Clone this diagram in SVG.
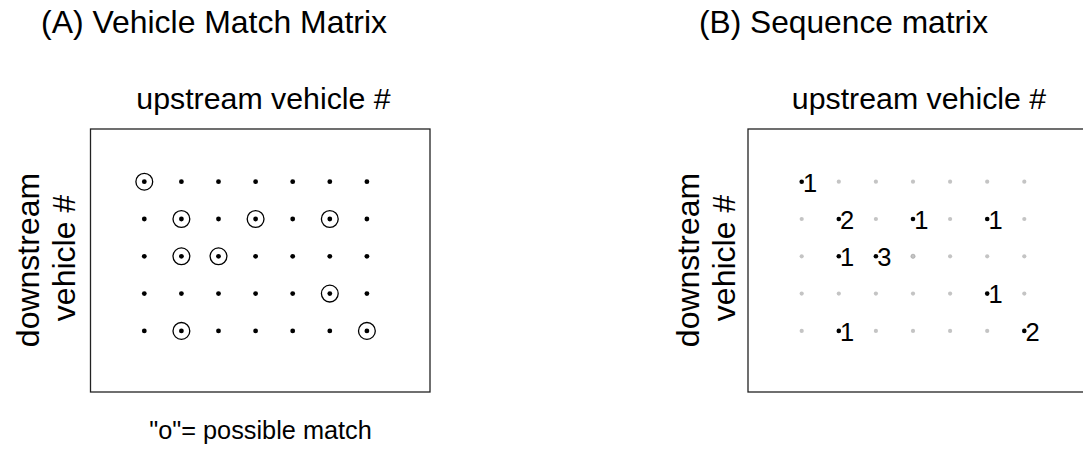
<svg xmlns="http://www.w3.org/2000/svg" width="1083" height="451" viewBox="0 0 1083 451">
<style>
text{font-family:"Liberation Sans",Arial,sans-serif;fill:#000}
.title{font-size:31.5px}
.axis{font-size:30.3px;text-anchor:middle}
.vlab{font-size:32px;text-anchor:middle}
.box{fill:none;stroke:#222;stroke-width:1.3}
.d{fill:#000}
.g{fill:#c4c4c4}
.ring{fill:none;stroke:#000;stroke-width:1.3}
.num{font-size:25.5px}
.cap{font-size:25.3px;text-anchor:middle}
</style>
<rect width="1083" height="451" fill="#fff"/>
<g id="panelA">
<text class="title" x="41" y="33" textLength="346" lengthAdjust="spacingAndGlyphs">(A) Vehicle Match Matrix</text>
<text class="axis" x="263.5" y="109">upstream vehicle #</text>
<text class="vlab" transform="translate(38.5,260) rotate(-90)">downstream</text>
<text class="vlab" transform="translate(75,258) rotate(-90)">vehicle #</text>
<rect class="box" x="90.5" y="129" width="339.5" height="263"/>
<g id="dotsA">
<circle class="d" cx="144.3" cy="181.7" r="2.4"/><circle class="d" cx="181.4" cy="181.7" r="2.4"/><circle class="d" cx="218.5" cy="181.7" r="2.4"/><circle class="d" cx="255.6" cy="181.7" r="2.4"/><circle class="d" cx="292.7" cy="181.7" r="2.4"/><circle class="d" cx="329.8" cy="181.7" r="2.4"/><circle class="d" cx="366.9" cy="181.7" r="2.4"/>
<circle class="d" cx="144.3" cy="219" r="2.4"/><circle class="d" cx="181.4" cy="219" r="2.4"/><circle class="d" cx="218.5" cy="219" r="2.4"/><circle class="d" cx="255.6" cy="219" r="2.4"/><circle class="d" cx="292.7" cy="219" r="2.4"/><circle class="d" cx="329.8" cy="219" r="2.4"/><circle class="d" cx="366.9" cy="219" r="2.4"/>
<circle class="d" cx="144.3" cy="256.3" r="2.4"/><circle class="d" cx="181.4" cy="256.3" r="2.4"/><circle class="d" cx="218.5" cy="256.3" r="2.4"/><circle class="d" cx="255.6" cy="256.3" r="2.4"/><circle class="d" cx="292.7" cy="256.3" r="2.4"/><circle class="d" cx="329.8" cy="256.3" r="2.4"/><circle class="d" cx="366.9" cy="256.3" r="2.4"/>
<circle class="d" cx="144.3" cy="293.6" r="2.4"/><circle class="d" cx="181.4" cy="293.6" r="2.4"/><circle class="d" cx="218.5" cy="293.6" r="2.4"/><circle class="d" cx="255.6" cy="293.6" r="2.4"/><circle class="d" cx="292.7" cy="293.6" r="2.4"/><circle class="d" cx="329.8" cy="293.6" r="2.4"/><circle class="d" cx="366.9" cy="293.6" r="2.4"/>
<circle class="d" cx="144.3" cy="330.9" r="2.4"/><circle class="d" cx="181.4" cy="330.9" r="2.4"/><circle class="d" cx="218.5" cy="330.9" r="2.4"/><circle class="d" cx="255.6" cy="330.9" r="2.4"/><circle class="d" cx="292.7" cy="330.9" r="2.4"/><circle class="d" cx="329.8" cy="330.9" r="2.4"/><circle class="d" cx="366.9" cy="330.9" r="2.4"/>
</g>
<g id="ringsA">
<circle class="ring" cx="144.3" cy="181.7" r="8.4"/>
<circle class="ring" cx="181.4" cy="219" r="8.4"/>
<circle class="ring" cx="255.6" cy="219" r="8.4"/>
<circle class="ring" cx="329.8" cy="219" r="8.4"/>
<circle class="ring" cx="181.4" cy="256.3" r="8.4"/>
<circle class="ring" cx="218.5" cy="256.3" r="8.4"/>
<circle class="ring" cx="329.8" cy="293.6" r="8.4"/>
<circle class="ring" cx="181.4" cy="330.9" r="8.4"/>
<circle class="ring" cx="366.9" cy="330.9" r="8.4"/>
</g>
<text class="cap" x="260.5" y="438.5">"o"= possible match</text>
</g>
<g id="panelB">
<text class="title" x="699" y="33" textLength="289" lengthAdjust="spacingAndGlyphs">(B) Sequence matrix</text>
<text class="axis" x="919" y="109">upstream vehicle #</text>
<text class="vlab" transform="translate(698.5,260) rotate(-90)">downstream</text>
<text class="vlab" transform="translate(735,258) rotate(-90)">vehicle #</text>
<rect class="box" x="748" y="129" width="340" height="263"/>
<g id="dotsB">
<circle class="g" cx="838.8" cy="181.7" r="2.1"/><circle class="g" cx="875.9" cy="181.7" r="2.1"/><circle class="g" cx="913" cy="181.7" r="2.1"/><circle class="g" cx="950.1" cy="181.7" r="2.1"/><circle class="g" cx="987.2" cy="181.7" r="2.1"/><circle class="g" cx="1024.3" cy="181.7" r="2.1"/>
<circle class="g" cx="801.7" cy="219" r="2.1"/><circle class="g" cx="875.9" cy="219" r="2.1"/><circle class="g" cx="950.1" cy="219" r="2.1"/><circle class="g" cx="1024.3" cy="219" r="2.1"/>
<circle class="g" cx="801.7" cy="256.3" r="2.1"/><circle cx="913" cy="256.3" r="2.1" fill="#c4c4c4" stroke="#999" stroke-width="0.6"/><circle class="g" cx="950.1" cy="256.3" r="2.1"/><circle class="g" cx="987.2" cy="256.3" r="2.1"/><circle class="g" cx="1024.3" cy="256.3" r="2.1"/>
<circle class="g" cx="801.7" cy="293.6" r="2.1"/><circle class="g" cx="838.8" cy="293.6" r="2.1"/><circle class="g" cx="875.9" cy="293.6" r="2.1"/><circle class="g" cx="913" cy="293.6" r="2.1"/><circle class="g" cx="950.1" cy="293.6" r="2.1"/><circle class="g" cx="1024.3" cy="293.6" r="2.1"/>
<circle class="g" cx="801.7" cy="330.9" r="2.1"/><circle class="g" cx="875.9" cy="330.9" r="2.1"/><circle class="g" cx="913" cy="330.9" r="2.1"/><circle class="g" cx="950.1" cy="330.9" r="2.1"/><circle class="g" cx="987.2" cy="330.9" r="2.1"/>
</g>
<g id="countsB">
<circle class="d" cx="801.7" cy="181.7" r="2.3"/><text class="num" x="803" y="191.5">1</text>
<circle class="d" cx="838.8" cy="219" r="2.3"/><text class="num" x="840.1" y="228.8">2</text>
<circle class="d" cx="913" cy="219" r="2.3"/><text class="num" x="914.3" y="228.8">1</text>
<circle class="d" cx="987.2" cy="219" r="2.3"/><text class="num" x="988.5" y="228.8">1</text>
<circle class="d" cx="838.8" cy="256.3" r="2.3"/><text class="num" x="840.1" y="266.1">1</text>
<circle class="d" cx="875.9" cy="256.3" r="2.3"/><text class="num" x="877.2" y="266.1">3</text>
<circle class="d" cx="987.2" cy="293.6" r="2.3"/><text class="num" x="988.5" y="303.4">1</text>
<circle class="d" cx="838.8" cy="330.9" r="2.3"/><text class="num" x="840.1" y="340.7">1</text>
<circle class="d" cx="1024.3" cy="330.9" r="2.3"/><text class="num" x="1025.6" y="340.7">2</text>
</g>
</g>
</svg>
